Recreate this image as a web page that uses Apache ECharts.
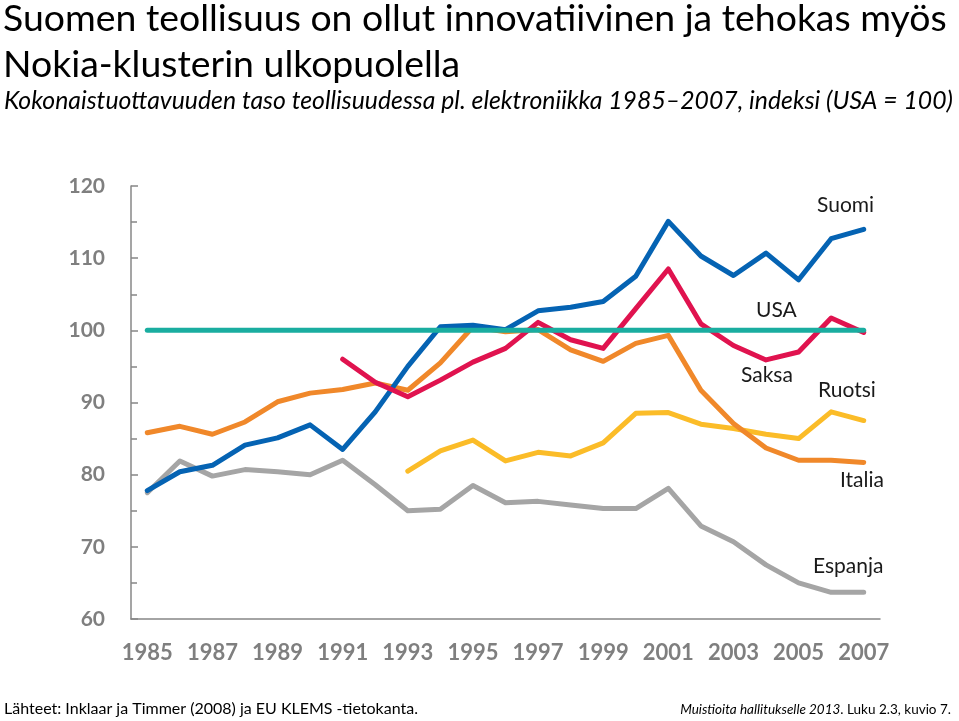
<!DOCTYPE html>
<html>
<head>
<meta charset="utf-8">
<script src="https://cdn.jsdelivr.net/npm/echarts@6/dist/echarts.min.js"></script>
<style>
html,body{margin:0;padding:0;background:#fff;}
#chart{width:959px;height:721px;}
</style>
</head>
<body>
<div id="chart"></div>
<script>
const years = ['1985','1986','1987','1988','1989','1990','1991','1992','1993','1994','1995','1996','1997','1998','1999','2000','2001','2002','2003','2004','2005','2006','2007'];
const usa     = [100,100,100,100,100,100,100,100,100,100,100,100,100,100,100,100,100,100,100,100,100,100,100];
const suomi   = [77.8,80.4,81.3,84.1,85.1,86.9,83.5,88.7,95.0,100.5,100.7,100.1,102.7,103.2,104.0,107.5,115.1,110.3,107.6,110.7,107.0,112.7,114.0];
const saksa   = [null,null,null,null,null,null,96.0,92.8,90.8,93.1,95.6,97.5,101.1,98.7,97.5,103.0,108.5,100.9,97.9,95.9,97.0,101.7,99.7];
const italia  = [85.8,86.7,85.6,87.3,90.1,91.3,91.8,92.7,91.7,95.5,100.5,99.8,100.1,97.3,95.7,98.2,99.3,91.7,87.1,83.7,82.0,82.0,81.7];
const ruotsi  = [null,null,null,null,null,null,null,null,80.5,83.3,84.8,81.9,83.1,82.6,84.4,88.5,88.6,87.0,86.4,85.6,85.0,88.7,87.5];
const espanja = [77.5,81.9,79.8,80.7,80.4,80.0,82.0,78.6,75.0,75.2,78.5,76.1,76.3,75.8,75.3,75.3,78.1,72.9,70.7,67.5,65.0,63.7,63.7];

const FONT = 'Lato, "Open Sans", sans-serif';
const chart = echarts.init(document.getElementById('chart'));

function line(name, data, color) {
  return {
    name, type: 'line', data, showSymbol: false, symbol: 'none',
    connectNulls: false, z: 3,
    lineStyle: { width: 5, color, cap: 'round', join: 'round' },
    itemStyle: { color }
  };
}

function lbl(text, x, y) {
  return { type: 'text', left: x, top: y, style: { text, font: '21px ' + FONT, fill: '#1a1a1a' } };
}

chart.setOption({
  animation: false,
  backgroundColor: '#fff',
  grid: { left: 131, right: 79, top: 186, bottom: 102, containLabel: false },
  xAxis: {
    type: 'category', data: years, boundaryGap: true,
    axisLine: { lineStyle: { color: '#878787', width: 1.5 } },
    axisTick: { inside: true, length: 8, lineStyle: { color: '#878787', width: 1.5 } },
    axisLabel: { interval: 1, color: '#7f7f7f', fontSize: 22, fontWeight: 'bold', fontFamily: FONT, margin: 23 }
  },
  yAxis: {
    type: 'value', min: 60, max: 120, interval: 10,
    axisLine: { show: true, lineStyle: { color: '#878787', width: 1.5 } },
    axisTick: { show: true, inside: true, length: 7, lineStyle: { color: '#878787', width: 1.5 } },
    minorTick: { show: true, splitNumber: 2, length: 6, lineStyle: { color: '#878787', width: 1.5 } },
    splitLine: { show: false },
    axisLabel: { color: '#7f7f7f', fontSize: 21, fontWeight: 'bold', fontFamily: FONT, margin: 26 }
  },
  series: [
    line('Espanja', espanja, '#a5a5a5'),
    line('Ruotsi', ruotsi, '#fbbc28'),
    line('Italia', italia, '#f0882a'),
    line('Suomi', suomi, '#0563b3'),
    line('Saksa', saksa, '#e0134f'),
    line('USA', usa, '#1aada0')
  ],
  graphic: [
    { type: 'text', left: 3, top: 0, style: { text: 'Suomen teollisuus on ollut innovatiivinen ja tehokas myös', font: '37.4px ' + FONT, fill: '#000' } },
    { type: 'text', left: 3, top: 46, style: { text: 'Nokia-klusterin ulkopuolella', font: '37.4px ' + FONT, fill: '#000' } },
    { type: 'text', left: 4, top: 89, style: { text: 'Kokonaistuottavuuden taso teollisuudessa pl. elektroniikka 1985–2007, indeksi (USA = 100)', font: 'italic 24.8px ' + FONT, fill: '#000' } },
    lbl('Suomi', 817, 195),
    lbl('USA', 756, 300),
    lbl('Saksa', 741, 365),
    lbl('Ruotsi', 818, 380),
    lbl('Italia', 840, 470),
    lbl('Espanja', 813, 556),
    { type: 'text', left: 4, top: 701, style: { text: 'Lähteet: Inklaar ja Timmer (2008) ja EU KLEMS -tietokanta.', font: '16px ' + FONT, fill: '#000' } },
    { type: 'text', right: 8, top: 703, style: {
        text: '{i|Muistioita hallitukselle 2013}. Luku 2.3, kuvio 7.',
        font: '13.5px ' + FONT, fill: '#000',
        rich: { i: { fontStyle: 'italic', fontSize: 13.5, fontFamily: FONT } } } }
  ]
});
</script>
</body>
</html>
